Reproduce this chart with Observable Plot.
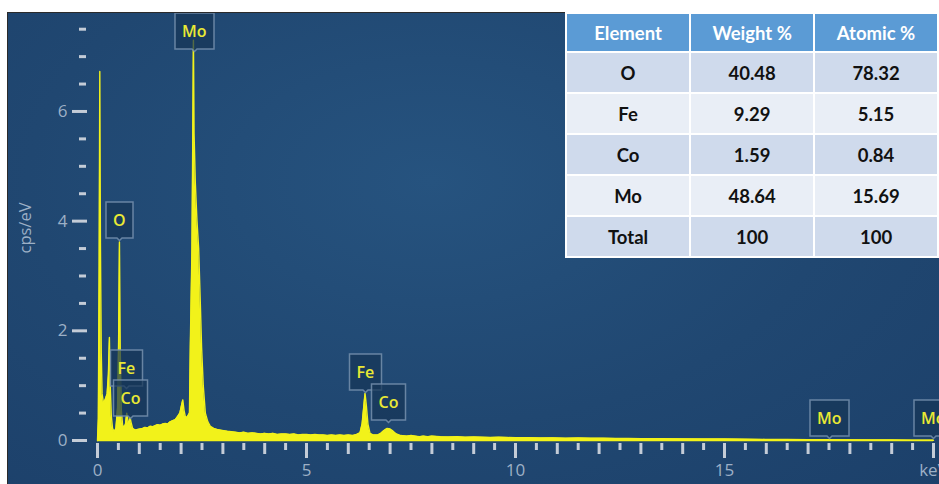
<!DOCTYPE html>
<html><head><meta charset="utf-8">
<script src="https://cdn.jsdelivr.net/npm/d3@7"></script>
<script src="https://cdn.jsdelivr.net/npm/@observablehq/plot@0.6"></script>
<style>
html,body{margin:0;padding:0;background:#fff;width:939px;height:484px;overflow:hidden;position:relative;}
#panel{position:absolute;left:7px;top:12px;width:940px;height:480px;border-left:1px solid #2b2b2b;border-top:1px solid #2b2b2b;
 background:radial-gradient(ellipse at 45% 35%, #26537f 0%, #204771 55%, #1c406a 100%);overflow:hidden;}
#chart{position:absolute;left:0;top:0;}
g[aria-label="tip"] text{fill:#e9e934;}
g[aria-label="tip"] path{fill-opacity:0.72;stroke-opacity:0.85;}
g[aria-label$="tick label"]{fill:#9db0c6;}
#tbl{position:absolute;left:565px;top:12px;border-collapse:separate;border-spacing:2px;background:#fff;font-family:Lato,"Open Sans",sans-serif;font-weight:700;font-size:18.5px;}
#tbl td,#tbl th{width:124px;padding:0;text-align:center;color:#111;}
#tbl th{height:37px;background:#5b9bd5;color:#fff;font-weight:700;}
#tbl td{height:39px;}
#tbl tr.odd td{background:#cfdaec;}
#tbl tr.even td{background:#e9eef6;}
</style></head>
<body>
<div id="panel"><div id="chart"></div></div>
<table id="tbl"></table>
<script>
// Spectrum (keV, cps/eV)
const energy = [0.00,0.02,0.04,0.055,0.07,0.09,0.11,0.14,0.17,0.20,0.23,0.26,0.285,0.30,0.33,0.36,0.40,0.44,0.48,0.505,0.525,0.545,0.57,0.60,0.64,0.67,0.70,0.72,0.75,0.78,0.80,0.84,0.90,0.96,1.02,1.08,1.14,1.20,1.26,1.32,1.38,1.44,1.50,1.56,1.62,1.68,1.74,1.80,1.86,1.92,1.97,2.01,2.04,2.07,2.10,2.14,2.17,2.20,2.22,2.26,2.28,2.295,2.31,2.34,2.38,2.42,2.46,2.49,2.53,2.58,2.64,2.70,2.78,2.86,2.94,3.02,3.10,3.2,3.3,3.4,3.5,3.6,3.7,3.8,3.9,4.0,4.1,4.2,4.3,4.4,4.5,4.6,4.7,4.8,4.9,5.0,5.1,5.2,5.3,5.4,5.5,5.6,5.7,5.8,5.9,6.0,6.1,6.2,6.28,6.33,6.37,6.40,6.43,6.47,6.52,6.60,6.70,6.78,6.85,6.93,7.00,7.07,7.15,7.25,7.4,7.5,7.6,7.7,7.8,7.9,8.0,8.2,8.4,8.6,8.8,9.0,9.2,9.4,9.6,9.8,10.0,10.3,10.6,10.9,11.2,11.5,11.8,12.1,12.4,12.7,13.0,13.5,14.0,14.5,15.0,15.5,16.0,16.5,17.0,17.5,18.0,18.5,19.0,19.5,20.0];
const counts = [0.00,0.40,3.20,6.73,3.60,1.60,0.85,0.70,0.72,0.78,0.85,1.20,1.88,1.10,0.45,0.22,0.16,0.22,0.60,1.80,3.62,1.60,0.55,0.28,0.24,0.30,0.50,0.40,0.28,0.42,0.34,0.22,0.19,0.20,0.21,0.22,0.24,0.23,0.26,0.25,0.27,0.29,0.28,0.30,0.31,0.30,0.34,0.36,0.38,0.44,0.50,0.64,0.74,0.55,0.44,0.42,0.46,0.50,1.70,3.50,5.60,7.30,5.60,4.70,4.00,3.50,2.50,1.70,1.00,0.50,0.34,0.26,0.22,0.20,0.19,0.18,0.17,0.16,0.15,0.14,0.15,0.13,0.14,0.13,0.12,0.13,0.12,0.13,0.11,0.12,0.12,0.11,0.12,0.10,0.11,0.11,0.10,0.11,0.10,0.10,0.09,0.10,0.09,0.10,0.09,0.10,0.09,0.11,0.14,0.30,0.62,0.86,0.65,0.30,0.13,0.10,0.10,0.13,0.18,0.22,0.21,0.17,0.12,0.09,0.08,0.09,0.08,0.07,0.08,0.07,0.08,0.07,0.065,0.07,0.06,0.065,0.06,0.055,0.06,0.055,0.05,0.05,0.045,0.048,0.042,0.045,0.04,0.04,0.036,0.038,0.034,0.032,0.03,0.028,0.026,0.024,0.02,0.018,0.015,0.014,0.012,0.01,0.008,0.006,0.005];

// Element markers
const peakNames = ["Mo","O","Fe","Co","Fe","Co","Mo","Mo"];
const peakKeV   = [2.31,0.53,0.705,0.79,6.42,6.96,17.51,20.0];
const peakCps   = [7.10,3.65,0.95,0.40,0.875,0.33,0.036,0.036];

// Axis ticks
const yMajor = [0,2,4,6];
const yMinor = [0.5,1,1.5,2.5,3,3.5,4.5,5,5.5,6.5,7,7.5];
const xMajor = [0,5,10,15,20];
const xMajorLabels = ["0","5","10","15","keV"];
const xInt = [1,2,3,4,6,7,8,9,11,12,13,14,16,17,18,19];
const xHalf = [0.5,1.5,2.5,3.5,4.5,5.5,6.5,7.5,8.5,9.5,10.5,11.5,12.5,13.5,14.5,15.5,16.5,17.5,18.5,19.5];

// Quantification table
const tableHeaders = ["Element","Weight %","Atomic %"];
const elements = ["O","Fe","Co","Mo","Total"];
const weightPct = ["40.48","9.29","1.59","48.64","100"];
const atomicPct = ["78.32","5.15","0.84","15.69","100"];

const spectrum = energy.map((e,i)=>({e, c: counts[i]}));
const peaks = peakNames.map((n,i)=>({n, x: peakKeV[i], y: peakCps[i]}));
const yellow = "#f2f21a";
const axisColor = "#c4ccd7";

const chart = Plot.plot({
  width: 931, height: 471,
  marginLeft: 89, marginRight: 6, marginTop: 2, marginBottom: 44,
  x: {domain: [0, 20]},
  y: {domain: [0, 7.75]},
  style: {background: "transparent", fontFamily: "'Open Sans', sans-serif", color: axisColor, overflow: "visible"},
  marks: [
    Plot.areaY(spectrum, {x: "e", y: "c", fill: yellow}),
    Plot.lineY(spectrum, {x: "e", y: "c", stroke: yellow, strokeWidth: 1.4}),
    Plot.ruleY([0], {stroke: yellow, strokeWidth: 1.5}),
    Plot.axisY({ticks: yMajor, tickSize: 15, tickPadding: 5, dx: -10, strokeWidth: 3, fontSize: 17, label: null}),
    Plot.axisY({ticks: yMinor, tickSize: 7, dx: -11, strokeWidth: 3, fill: "none", label: null}),
    Plot.axisX({ticks: xMajor, tickSize: 15, tickPadding: 5, dy: 3, strokeWidth: 3, fontSize: 17, tickFormat: d => xMajorLabels[xMajor.indexOf(d)], label: null}),
    Plot.axisX({ticks: xInt, tickSize: 11, dy: 3, strokeWidth: 3, fill: "none", label: null}),
    Plot.axisX({ticks: xHalf, tickSize: 7, dy: 3, strokeWidth: 3, fill: "none", label: null}),
    Plot.text(["cps/eV"], {text: d => d, frameAnchor: "left", textAnchor: "middle", rotate: -90, dx: -72, fontSize: 16.5, fill: "#9db0c6"}),
    Plot.tip(peaks, {x: "x", y: "y", title: "n", anchor: "bottom", pointerSize: 5, textPadding: 7,
      fontSize: 16, fontWeight: 600, pathFilter: "none", fill: "#163658", stroke: "#7590ae", strokeWidth: 1.5})
  ]
});
document.getElementById("chart").appendChild(chart);

// Build table
const tbl = document.getElementById("tbl");
const hr = document.createElement("tr");
tableHeaders.forEach(h => { const th = document.createElement("th"); th.textContent = h; hr.appendChild(th); });
tbl.appendChild(hr);
elements.forEach((el, i) => {
  const tr = document.createElement("tr");
  tr.className = i % 2 === 0 ? "odd" : "even";
  [el, weightPct[i], atomicPct[i]].forEach(v => { const td = document.createElement("td"); td.textContent = v; tr.appendChild(td); });
  tbl.appendChild(tr);
});
</script>
</body></html>
